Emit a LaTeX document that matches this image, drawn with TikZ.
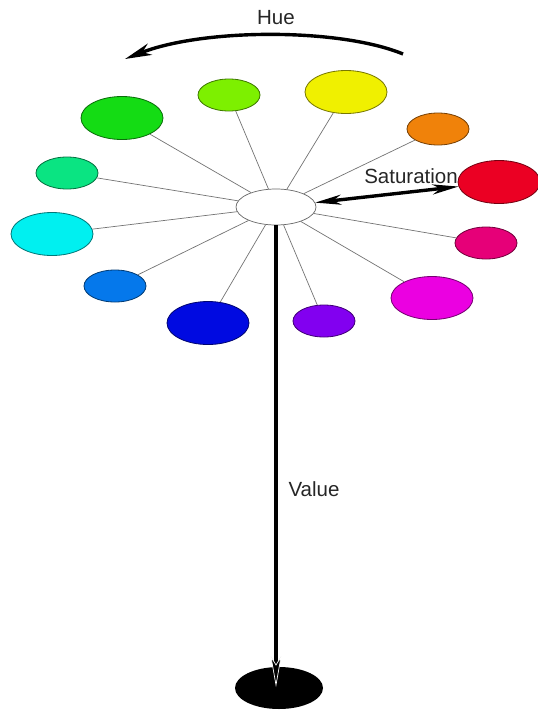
\documentclass[tikz,border=0pt]{standalone}
\usepackage{fontspec}
\setmainfont{Liberation Sans}
\usetikzlibrary{shapes.geometric,arrows.meta}
\definecolor{hueRed}{RGB}{235,0,35}
\definecolor{hueOrange}{RGB}{240,130,10}
\definecolor{hueYellow}{RGB}{240,240,0}
\definecolor{hueLime}{RGB}{125,240,0}
\definecolor{hueGreen}{RGB}{20,220,20}
\definecolor{hueSpring}{RGB}{10,228,130}
\definecolor{hueCyan}{RGB}{0,240,240}
\definecolor{hueAzure}{RGB}{5,120,235}
\definecolor{hueBlue}{RGB}{0,10,225}
\definecolor{hueViolet}{RGB}{130,0,240}
\definecolor{hueMagenta}{RGB}{235,0,225}
\definecolor{hueRose}{RGB}{230,0,120}

\begin{document}
\begin{tikzpicture}[x=0.3mm, y=-0.3mm,
    blob/.style={ellipse, inner sep=0pt, fill=#1, draw=#1!50!black, line width=0.7pt},
    bigblob/.style={minimum width=24.6mm, minimum height=12.9mm},
    smallblob/.style={minimum width=18.6mm, minimum height=9.6mm},
    spoke/.style={draw=black!55, line width=0.6pt},
    axis/.style={line width=2.9pt},
    tip/.style={-{Stealth[length=8mm, width=3.6mm, inset=2.4mm]}},
    lbl/.style={font=\fontsize{17.5}{20}\selectfont, text=black!85}]
  \useasboundingbox (0,0) rectangle (538,713);
  % hub and hues
  \node[ellipse, draw=black!60, fill=white, line width=0.6pt,
        minimum width=24mm, minimum height=10.8mm] (hub) at (276,207) {};
  \node[blob=hueRed, bigblob]       (h0)   at (499,182) {};
  \node[blob=hueOrange, smallblob]  (h30)  at (438,129) {};
  \node[blob=hueYellow, bigblob]    (h60)  at (346,92)  {};
  \node[blob=hueLime, smallblob]    (h90)  at (229,95)  {};
  \node[blob=hueGreen, bigblob]     (h120) at (122,118) {};
  \node[blob=hueSpring, smallblob]  (h150) at (67,173)  {};
  \node[blob=hueCyan, bigblob]      (h180) at (52,234)  {};
  \node[blob=hueAzure, smallblob]   (h210) at (115,286) {};
  \node[blob=hueBlue, bigblob]      (h240) at (208,323) {};
  \node[blob=hueViolet, smallblob]  (h270) at (324,321) {};
  \node[blob=hueMagenta, bigblob]   (h300) at (432,298) {};
  \node[blob=hueRose, smallblob]    (h330) at (486,243) {};
  \foreach \h in {30,60,...,330}
    \draw[spoke] (hub) -- (h\h);
  % value axis
  \node[ellipse, fill=black, inner sep=0pt,
        minimum width=26.4mm, minimum height=12.6mm] (base) at (279,688) {};
  \coordinate (vtip) at (276,687);
  \draw[axis, -{Stealth[length=9.6mm, width=3.4mm, inset=2.8mm,
        color=white, fill=black, line width=0.6pt]}] (hub.south) -- (vtip);
  \node[lbl] (vallbl) at (314,489) {Value};
  % saturation
  \draw[axis, {Stealth[length=7.8mm, width=3mm, inset=2.4mm]}-{Stealth[length=7.8mm, width=3mm, inset=2.4mm]}]
    (hub) -- (h0);
  \node[lbl] (satlbl) at (411,176) {Saturation};
  % hue arc
  \coordinate (hueA) at (403,54);
  \coordinate (hueB) at (125,59);
  \draw[axis, tip] (hueA) .. controls (340,28) and (204,28) .. (hueB);
  \node[lbl] (huelbl) at (276,18) {Hue};
\end{tikzpicture}
\end{document}
